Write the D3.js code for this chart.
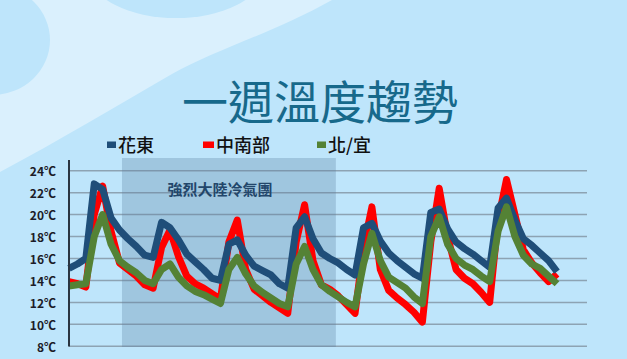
<!DOCTYPE html>
<html><head><meta charset="utf-8">
<script src="https://cdn.jsdelivr.net/npm/d3@7"></script>
<style>html,body{margin:0;padding:0;background:#bee5fb;overflow:hidden}</style>
</head><body>
<svg id="c" width="627" height="359"></svg>
<script>
const title = "一週溫度趨勢";
const boxLabel = "強烈大陸冷氣團";
const seriesNames = ["花東", "中南部", "北/宜"];
const seriesColors = ["#1f4e79", "#ff0000", "#548235"];
const yTicks = [8, 10, 12, 14, 16, 18, 20, 22, 24];
const days = [1, 2, 3, 4, 5, 6, 7, 8];
const hours = [0, 3, 6, 9, 12, 15, 18, 21];
const huadong = [15.1,15.5,16.0,22.8,22.3,19.7,18.6,17.8,17.1,16.3,16.1,19.3,18.8,17.7,16.4,15.7,15.0,14.2,14.0,17.3,17.7,16.3,15.3,14.9,14.5,13.7,13.3,18.8,19.8,17.8,16.5,16.0,15.6,15.0,14.5,18.8,19.2,17.6,16.5,15.8,15.2,14.6,14.2,20.2,20.5,18.7,17.5,16.9,16.4,15.8,15.2,20.6,21.5,19.5,17.8,17.2,16.5,15.8,14.8];
const south = [13.9,13.7,13.4,20.0,22.6,18.5,15.6,15.0,14.4,13.6,13.3,17.0,18.6,16.2,14.4,13.7,13.3,12.8,12.3,17.5,19.5,15.0,13.2,12.6,12.0,11.5,11.0,17.5,20.9,15.8,13.6,13.2,12.6,11.8,11.0,17.0,20.7,15.0,13.1,12.4,11.8,11.1,10.2,17.5,22.4,18.0,15.0,14.2,13.7,12.9,12.0,19.5,23.2,20.0,16.8,15.6,14.7,13.9,14.6];
const north = [13.5,13.6,13.7,18.0,20.0,17.3,15.8,15.2,14.7,14.0,13.7,15.0,15.5,14.3,13.5,13.0,12.7,12.3,11.9,15.0,16.1,14.6,13.5,12.9,12.4,11.9,11.6,15.5,17.1,15.0,13.6,13.0,12.5,12.0,11.6,15.5,18.3,15.8,14.3,13.8,13.3,12.5,11.9,18.0,19.8,17.3,16.0,15.4,15.0,14.4,13.9,18.5,20.7,18.0,16.3,15.5,15.1,14.4,13.7];
const series = [huadong, south, north];
const slots = days.flatMap(d => hours.map(h => `D${d} ${h}時`)).slice(0, huadong.length);
const boxRange = [slots[6], slots[31]];

const svg = d3.select("#c");
// background decoration
svg.append("rect").attr("width", 627).attr("height", 359).attr("fill", "#bee5fb");
svg.append("path").attr("d", "M0,0 L332,0 C 275,32 215,50 172,74 C 120,104 60,140 0,172 Z").attr("fill", "#daf0fd");
svg.append("ellipse").attr("cx", -8).attr("cy", 40).attr("rx", 58).attr("ry", 55).attr("fill", "#bee5fb");
svg.append("ellipse").attr("cx", 176).attr("cy", -26).attr("rx", 86).attr("ry", 44).attr("fill", "#bee5fb");

// title
svg.append("text").attr("x", 320).attr("y", 99).attr("text-anchor", "middle").attr("dominant-baseline", "central")
  .attr("font-family", "'Noto Sans CJK TC','Noto Sans CJK SC',sans-serif").attr("font-size", 46).attr("font-weight", 400)
  .attr("fill", "#17698b").text(title);

// legend
const legX = [107, 203, 317];
const legW = [9, 11, 9];
seriesNames.forEach((n, i) => {
  svg.append("rect").attr("x", legX[i]).attr("y", 141.5).attr("width", legW[i]).attr("height", 6.5).attr("fill", seriesColors[i]);
  svg.append("text").attr("x", legX[i] + legW[i] + 2).attr("y", 144).attr("dominant-baseline", "central")
    .attr("font-family", "'Noto Sans CJK TC','Noto Sans CJK SC',sans-serif").attr("font-size", 18).attr("font-weight", 500)
    .attr("fill", "#111").text(n);
});

const x = d3.scalePoint().domain(slots).range([69, 557]);
const y = d3.scaleLinear().domain([8, 24]).range([346.3, 170.7]);

// gridlines
svg.append("g").selectAll("line").data(yTicks).join("line")
  .attr("x1", 69).attr("x2", 587).attr("y1", d => y(d)).attr("y2", d => y(d))
  .attr("stroke", "#8da3b3").attr("stroke-width", 1.5);

// shaded box
const bx0 = x(boxRange[0]) + 2.5, bx1 = x(boxRange[1]) + 6;
svg.append("rect").attr("x", bx0).attr("y", 158).attr("width", bx1 - bx0)
  .attr("height", 189).attr("fill", "#5a7fa0").attr("opacity", 0.3);
svg.append("text").attr("x", 220).attr("y", 188).attr("text-anchor", "middle").attr("dominant-baseline", "central")
  .attr("font-family", "'Noto Sans CJK TC','Noto Sans CJK SC',sans-serif").attr("font-size", 15).attr("font-weight", 700)
  .attr("fill", "#23466b").text(boxLabel);

// y labels
svg.append("g").selectAll("text").data(yTicks).join("text")
  .attr("x", 56).attr("y", d => y(d)).attr("text-anchor", "end").attr("dominant-baseline", "central")
  .attr("font-family", "'Noto Sans CJK TC','Noto Sans CJK SC',sans-serif").attr("font-size", 12).attr("font-weight", 700)
  .attr("fill", "#1c1c28").text(d => d + "℃");

// lines
const line = d3.line().x((d, i) => x(slots[i])).y(d => y(d)).curve(d3.curveLinear);
const order = [1, 0, 2];
order.forEach(k => {
  svg.append("path").datum(series[k]).attr("d", line).attr("fill", "none")
    .attr("stroke", seriesColors[k]).attr("stroke-width", 7).attr("stroke-linejoin", "round");
});

// axis line
svg.append("line").attr("x1", 69).attr("x2", 69).attr("y1", 160).attr("y2", 346.5).attr("stroke", "#2a3440").attr("stroke-width", 2);
</script>
</body></html>
